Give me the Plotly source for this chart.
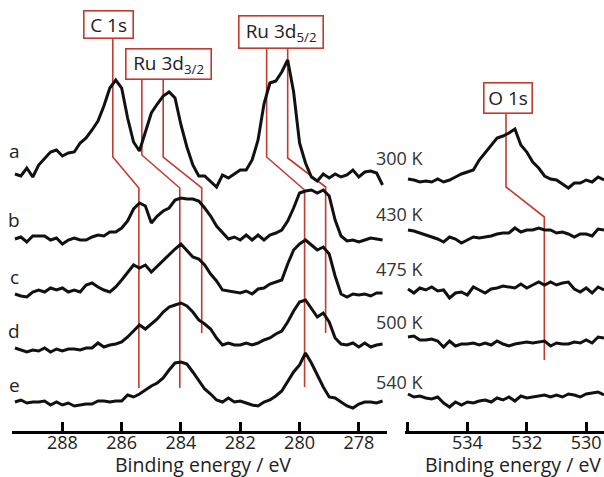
import plotly.graph_objects as go

# ---------------- data ----------------
labels = ["a", "b", "c", "d", "e"]
temperatures = ["300 K", "430 K", "475 K", "500 K", "540 K"]
offsets = [256, 194, 135, 81, 31]          # vertical stacking offsets (a.u.)

left_start, right_start, step = 289.6, 536.0, 0.2

# C 1s / Ru 3d region (289.6 -> 277.2 eV, 0.2 eV steps), intensity a.u.
a_left = [1, -1, 7, -2, 10, 17, 23, 25, 19, 22, 23, 32, 37, 45, 54, 69, 87, 95, 87, 57,
          33, 24, 42, 62, 71, 79, 83, 77, 50, 28, 10, -1, -1, -7, -12, 0, -3, 1, 5, 5,
          15, 35, 71, 92, 94, 103, 115, 83, 32, 12, -2, -6, 1, -3, 1, -2, 0, 5, -2, 3,
          4, 2, -10]
b_left = [-2, 0, -5, 1, 1, 1, -3, -1, -7, -3, -1, -3, -3, 0, 2, 1, 5, 5, 9, 16,
          28, 34, 31, 14, 21, 26, 29, 37, 39, 38, 38, 36, 29, 21, 11, 4, -2, 0, -3, 2,
          -3, 2, -3, 2, 4, 7, 16, 29, 44, 46, 47, 44, 47, 41, 17, 1, -4, -3, -5, -3,
          -1, -2, -3]
c_left = [2, 0, -1, 4, 6, 4, 8, 6, 8, 4, 6, 4, 11, 13, 9, 6, 4, 9, 16, 24,
          31, 28, 31, 24, 30, 35, 41, 47, 52, 46, 39, 37, 31, 22, 15, 6, 5, 4, 3, 5,
          2, 7, 8, 12, 14, 16, 32, 46, 52, 56, 51, 46, 49, 42, 20, 2, -1, 2, 1, 2,
          0, 3, 3]
d_left = [2, 0, -2, 0, -1, 2, -2, 1, -1, 1, 1, 0, 2, 2, 7, 3, 5, 6, 8, 13,
          19, 25, 21, 26, 31, 38, 43, 45, 47, 44, 38, 30, 26, 21, 12, 5, 7, 5, 5, 7,
          5, 7, 10, 12, 16, 19, 28, 39, 48, 50, 42, 33, 37, 28, 12, 6, 5, 7, 3, 7,
          3, 5, 6]
e_left = [-2, 0, -3, -2, -2, -1, -5, -2, -5, -3, -6, -5, -4, -4, -1, -1, -2, -1, -1, 5,
          3, 6, 10, 14, 17, 22, 30, 37, 38, 36, 28, 20, 11, 6, 0, -2, 2, -2, -1, -3,
          -5, -6, -2, 0, 4, 9, 19, 28, 35, 47, 37, 25, 13, 3, 2, -2, -6, -8, -4, -2,
          -2, -3, -1]

# O 1s region (536.0 -> 529.4 eV, 0.2 eV steps)
a_right = [-4, -5, -7, -6, -7, -4, -7, -5, -2, 1, 3, 5, 15, 22, 29, 37, 39, 42, 46, 30,
           23, 13, 7, -1, -4, -5, -9, -13, -8, -8, -5, -7, -2, -5]
b_right = [7, 6, 4, 2, 0, -2, -5, 0, -2, -6, -3, 0, -1, 0, 1, 3, 4, 4, 9, 5,
           7, 7, 9, 7, 7, 4, 5, 3, 0, 3, 3, 1, 8, 7]
c_right = [7, 3, 8, 6, 9, 5, 6, -2, 3, 4, 1, 9, 6, 3, 7, 8, 10, 9, 8, 12,
           8, 11, 14, 11, 14, 11, 13, 14, 7, 4, 8, 3, 9, 6]
d_right = [13, 14, 10, 10, 11, 9, 3, 9, 4, 6, 6, 7, 5, 7, 5, 9, 6, 4, 6, 7,
           8, 7, 8, 9, 4, 7, 6, 6, 8, 7, 10, 7, 13, 12]
e_right = [6, 3, 4, 2, 1, 3, -3, -7, -2, -5, -2, -3, -1, 0, -2, 2, 0, 3, -1, 4,
           2, 3, 4, 5, 3, 5, 3, 6, 5, 3, 6, 7, 8, 5]

left_series = [a_left, b_left, c_left, d_left, e_left]
right_series = [a_right, b_right, c_right, d_right, e_right]

# peak guide lines: energy at 300 K and energy at higher T
guide_names = ["C 1s", "Ru 3d3/2", "Ru 3d3/2", "Ru 3d5/2", "Ru 3d5/2"]
guide_E_high = [286.3, 285.32, 284.6, 281.11, 280.4]
guide_E_low = [285.42, 284.04, 283.3, 279.83, 279.12]
o1s_E_high, o1s_E_low = 532.7, 531.41

# ---------------- layout helpers ----------------
W, H = 604, 477
PLOT_BOTTOM = 431          # pixel row of the axis line
RED = "#c23b30"
FONT = "Open Sans"
TEXT = "#222222"


def px_to_paper(px, py):
    return px / W, (PLOT_BOTTOM - py) / PLOT_BOTTOM


def yv(py):               # pixel row -> y data value (y range equals plot pixels)
    return PLOT_BOTTOM - py


fig = go.Figure()

# guide lines (under the spectra)
guide_top = [38, 79, 79, 49, 49]
guide_knee1 = [157, 155, 157, 157, 158]
guide_knee2 = [188, 188, 188, 190, 187]
guide_bottom = [388, 388, 333, 387, 333]
for eh, el, t, k1, k2, bt in zip(guide_E_high, guide_E_low, guide_top,
                                 guide_knee1, guide_knee2, guide_bottom):
    fig.add_trace(go.Scatter(x=[eh, eh, el, el], y=[yv(t), yv(k1), yv(k2), yv(bt)],
                             mode="lines", line=dict(color=RED, width=1.6),
                             xaxis="x", yaxis="y", hoverinfo="skip"))
fig.add_trace(go.Scatter(x=[o1s_E_high, o1s_E_high, o1s_E_low, o1s_E_low],
                         y=[yv(113), yv(187), yv(217), yv(360)],
                         mode="lines", line=dict(color=RED, width=1.6),
                         xaxis="x2", yaxis="y", hoverinfo="skip"))

# spectra
for series, off in zip(left_series, offsets):
    xs = [round(left_start - step * i, 2) for i in range(len(series))]
    fig.add_trace(go.Scatter(x=xs, y=[v + off for v in series], mode="lines",
                             line=dict(color="#111111", width=3),
                             xaxis="x", yaxis="y", hoverinfo="skip"))
for series, off in zip(right_series, offsets):
    xs = [round(right_start - step * i, 2) for i in range(len(series))]
    fig.add_trace(go.Scatter(x=xs, y=[v + off for v in series], mode="lines",
                             line=dict(color="#111111", width=3),
                             xaxis="x2", yaxis="y", hoverinfo="skip"))

annotations = []
# spectrum letters
for lab, py in zip(labels, [151, 220, 277, 331, 385]):
    x, y = px_to_paper(14, py)
    annotations.append(dict(x=x, y=y, xref="paper", yref="paper", text=lab,
                            showarrow=False, xanchor="center", yanchor="middle",
                            font=dict(family=FONT, size=19, color=TEXT)))
# temperatures
for t, py in zip(temperatures, [158, 214, 269, 322, 382]):
    x, y = px_to_paper(374, py)
    annotations.append(dict(x=x, y=y, xref="paper", yref="paper", text=t,
                            showarrow=False, xanchor="left", yanchor="middle",
                            font=dict(family=FONT, size=18, color="#333")))
# boxed peak labels
boxes = [("C 1s", 108, 24, 50, 28),
         ("Ru 3d<sub>3/2</sub>", 168, 63.5, 86, 31),
         ("Ru 3d<sub>5/2</sub>", 280.5, 32, 85, 33),
         ("O 1s", 507.5, 97.5, 49, 31)]
for txt, cx, cy, bw, bh in boxes:
    x, y = px_to_paper(cx, cy)
    annotations.append(dict(x=x, y=y, xref="paper", yref="paper", text=txt,
                            showarrow=False, xanchor="center", yanchor="middle",
                            width=bw - 2, height=bh - 2, align="center", valign="middle",
                            bordercolor=RED, borderwidth=1.6, borderpad=0,
                            bgcolor="white",
                            font=dict(family=FONT, size=19, color=TEXT)))
# axis titles
for cx in (203, 513):
    x, y = px_to_paper(cx, 465)
    annotations.append(dict(x=x, y=y, xref="paper", yref="paper",
                            text="Binding energy / eV", showarrow=False,
                            xanchor="center", yanchor="middle",
                            font=dict(family=FONT, size=19.5, color=TEXT)))

axis_common = dict(showline=True, linecolor="black", linewidth=3, ticks="inside",
                   ticklen=9, tickwidth=2.5, tickcolor="black", showgrid=False,
                   zeroline=False, tickfont=dict(family=FONT, size=18, color=TEXT),
                   ticklabelstandoff=-7, automargin=False, fixedrange=True)

fig.update_layout(
    width=W, height=H,
    margin=dict(l=0, r=0, t=0, b=H - PLOT_BOTTOM, autoexpand=False),
    paper_bgcolor="white", plot_bgcolor="white", showlegend=False,
    xaxis=dict(domain=[12 / W, 387 / W], range=[289.7, 277.05], anchor="y",
               tickvals=[289.68, 288, 286, 284, 282, 280, 278],
               ticktext=["", "288", "286", "284", "282", "280", "278"], **axis_common),
    xaxis2=dict(domain=[405 / W, 1.0], range=[536.1, 529.4], anchor="y",
                tickvals=[536.0, 534, 532, 530],
                ticktext=["", "534", "532", "530"], **axis_common),
    yaxis=dict(range=[0, PLOT_BOTTOM], visible=False, fixedrange=True),
    annotations=annotations,
)

fig.write_html("out.html", config={"displayModeBar": False},
               post_script="document.body.style.margin='0';"
                           "document.body.style.overflow='hidden';")
